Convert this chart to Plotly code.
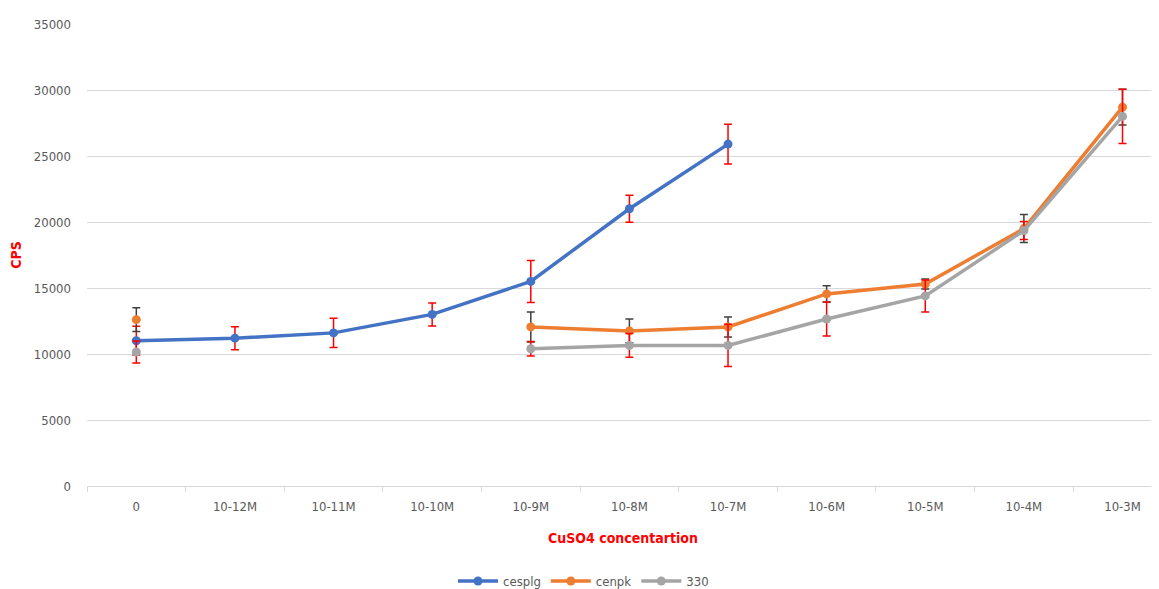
import plotly.graph_objects as go

categories = ["0", "10-12M", "10-11M", "10-10M", "10-9M", "10-8M", "10-7M",
              "10-6M", "10-5M", "10-4M", "10-3M"]

cesplg = [11000, 11200, 11600, 13000, 15500, 21000, 25900, None, None, None, None]
cesplg_err = [1100, 870, 1100, 870, 1590, 1020, 1500, 0, 0, 0, 0]

cenpk = [12600, None, None, None, 12050, 11750, 12050, 14550, 15300, 19500, 28700]
cenpk_err = [900, 0, 0, 0, 1140, 900, 760, 620, 380, 1060, 1350]

s330 = [10150, None, None, None, 10400, 10650, 10650, 12650, 14400, 19350, 28000]
s330_err = [830, 0, 0, 0, 550, 900, 1600, 1290, 1210, 680, 2050]

FONT = "DejaVu Sans Condensed, Liberation Sans Narrow, Liberation Sans, Arial, sans-serif"

fig = go.Figure()

def add(name, y, err, color, ecolor):
    fig.add_trace(go.Scatter(
        x=categories, y=y, name=name, mode="lines+markers",
        line=dict(color=color, width=3.5),
        marker=dict(color=color, size=9),
        error_y=dict(type="data", array=err, visible=True, color=ecolor,
                     thickness=1.5, width=4),
        connectgaps=False,
    ))

add("cesplg", cesplg, cesplg_err, "#4472C4", "#FF0000")
add("cenpk", cenpk, cenpk_err, "#ED7D31", "#404040")
add("330", s330, s330_err, "#A5A5A5", "#FF0000")

fig.update_layout(
    width=1151, height=581,
    margin=dict(l=79, r=0, t=16, b=103, autoexpand=False),
    paper_bgcolor="white", plot_bgcolor="white",
    font=dict(family=FONT, size=13, color="#595959"),
    showlegend=True,
    legend=dict(orientation="h", x=0.5, xanchor="center",
                xref="container", yref="container", y=8 / 581, yanchor="middle",
                font=dict(size=13, color="#595959"), itemwidth=40),
    xaxis=dict(
        type="category", range=[-0.5, 10.37], automargin=False,
        showgrid=False, showline=True, linecolor="#D9D9D9", linewidth=1,
        ticks="outside", tickson="boundaries", ticklen=5, tickcolor="#D9D9D9",
        tickfont=dict(size=13, color="#595959"), ticklabelstandoff=8,
        title=dict(text="<b>CuSO4 concentartion</b>", font=dict(size=14, color="#FF0000"),
                   standoff=20),
    ),
    yaxis=dict(
        range=[0, 35000], dtick=5000, tickformat="d", automargin=False,
        showgrid=True, gridcolor="#D9D9D9", gridwidth=1,
        zeroline=False, showline=False, ticks="",
        tickfont=dict(size=13, color="#595959"), ticklabelstandoff=15,
        title=dict(text="<b>CPS</b>", font=dict(size=14, color="#FF0000"), standoff=14),
    ),
)

fig.write_html("out.html")
